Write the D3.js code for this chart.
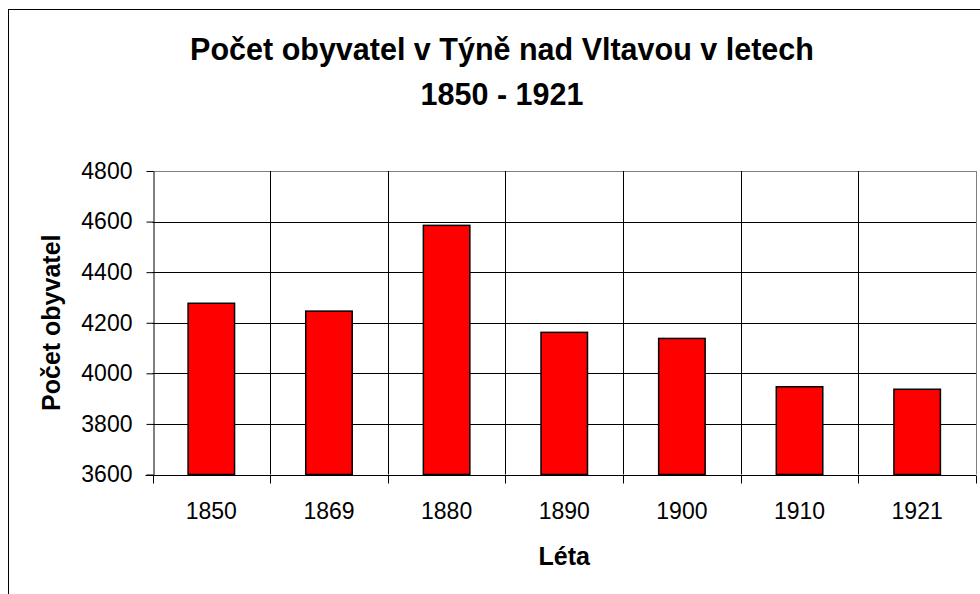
<!DOCTYPE html>
<html>
<head>
<meta charset="utf-8">
<script src="https://cdn.jsdelivr.net/npm/d3@7"></script>
<style>
  body { margin: 0; background: #fff; }
  svg { display: block; font-family: "Liberation Sans", Arial, sans-serif; }
</style>
</head>
<body>
<div id="plot"></div>
<script>
// data
const years = ["1850", "1869", "1880", "1890", "1900", "1910", "1921"];
const population = [4277, 4246, 4585, 4162, 4138, 3947, 3937];
const yTicks = [3600, 3800, 4000, 4200, 4400, 4600, 4800];

const width = 980;
const height = 594;
const marginLeft = 152.5;
const marginRight = 4;
const marginTop = 171;
const marginBottom = 120;

const svg = d3.create("svg")
    .attr("width", width)
    .attr("height", height)
    .attr("viewBox", [0, 0, width, height]);

// outer chart frame (runs off the right / bottom edge)
svg.append("rect")
    .attr("x", 8.5)
    .attr("y", 9.5)
    .attr("width", 1000)
    .attr("height", 700)
    .attr("fill", "#fff")
    .attr("stroke", "#000")
    .attr("stroke-width", 1);

const x = d3.scaleBand()
    .domain(years)
    .range([marginLeft, width - marginRight])
    .padding(0);

const y = d3.scaleLinear()
    .domain([3600, 4800])
    .range([height - marginBottom + 0.5, marginTop]);

const crisp = v => Math.round(v) + 0.5;

// horizontal grid
svg.append("g")
    .selectAll("line")
    .data(yTicks)
    .join("line")
    .attr("x1", marginLeft)
    .attr("x2", width - marginRight)
    .attr("y1", d => crisp(y(d)))
    .attr("y2", d => crisp(y(d)))
    .attr("stroke", d => d === 4800 ? "#808080" : "#000")
    .attr("stroke-width", 1);

// vertical grid at category boundaries
const bounds = years.slice(1).map(d => x(d)).concat([width - marginRight]);
svg.append("g")
    .selectAll("line")
    .data(bounds)
    .join("line")
    .attr("x1", d => crisp(d))
    .attr("x2", d => crisp(d))
    .attr("y1", y(4800))
    .attr("y2", y(3600))
    .attr("stroke", (d, i) => i === bounds.length - 1 ? "#808080" : "#000")
    .attr("stroke-width", 1);

// bars
const barW = x.bandwidth() * 0.395;
svg.append("g")
    .selectAll("rect")
    .data(population)
    .join("rect")
    .attr("x", (d, i) => x(years[i]) + (x.bandwidth() - barW) / 2)
    .attr("y", d => y(d))
    .attr("width", barW)
    .attr("height", d => y(3600) - y(d))
    .attr("fill", "#ff0000")
    .attr("stroke", "#000")
    .attr("stroke-width", 1.5);

// y axis
const yAxis = svg.append("g")
    .attr("transform", `translate(${crisp(marginLeft)},0)`)
    .call(d3.axisLeft(y).tickValues(yTicks).tickFormat(d3.format("d"))
        .tickSize(7).tickPadding(14).tickSizeOuter(0));
yAxis.attr("font-size", null).attr("font-family", null);
yAxis.selectAll("text")
    .style("font-size", "23px")
    .attr("fill", "#000");
yAxis.selectAll("line, path").attr("stroke", "#000");

// x axis with ticks at category boundaries
const xAxisY = crisp(y(3600));
svg.append("line")
    .attr("x1", marginLeft - 7)
    .attr("x2", width - marginRight)
    .attr("y1", xAxisY)
    .attr("y2", xAxisY)
    .attr("stroke", "#000");
svg.append("g")
    .selectAll("line")
    .data(years.map(d => x(d)).concat([width - marginRight]))
    .join("line")
    .attr("x1", d => crisp(d))
    .attr("x2", d => crisp(d))
    .attr("y1", xAxisY)
    .attr("y2", xAxisY + 8)
    .attr("stroke", "#000");
svg.append("g")
    .selectAll("text")
    .data(years)
    .join("text")
    .attr("x", d => x(d) + x.bandwidth() / 2)
    .attr("y", 519)
    .attr("text-anchor", "middle")
    .style("font-size", "23px")
    .text(d => d);

// titles
svg.append("text")
    .attr("x", 502)
    .attr("y", 59.5)
    .attr("text-anchor", "middle")
    .style("font-size", "30.5px")
    .attr("font-weight", "bold")
    .text("Počet obyvatel v Týně nad Vltavou v letech");
svg.append("text")
    .attr("x", 502)
    .attr("y", 105)
    .attr("text-anchor", "middle")
    .style("font-size", "30.5px")
    .attr("font-weight", "bold")
    .text("1850 - 1921");

svg.append("text")
    .attr("x", (marginLeft + width - marginRight) / 2)
    .attr("y", 565)
    .attr("text-anchor", "middle")
    .style("font-size", "25px")
    .attr("font-weight", "bold")
    .text("Léta");

svg.append("text")
    .attr("transform", "rotate(-90)")
    .attr("x", -(y(4800) + y(3600)) / 2)
    .attr("y", 60)
    .attr("text-anchor", "middle")
    .style("font-size", "25px")
    .attr("font-weight", "bold")
    .text("Počet obyvatel");

document.getElementById("plot").appendChild(svg.node());
</script>
</body>
</html>
